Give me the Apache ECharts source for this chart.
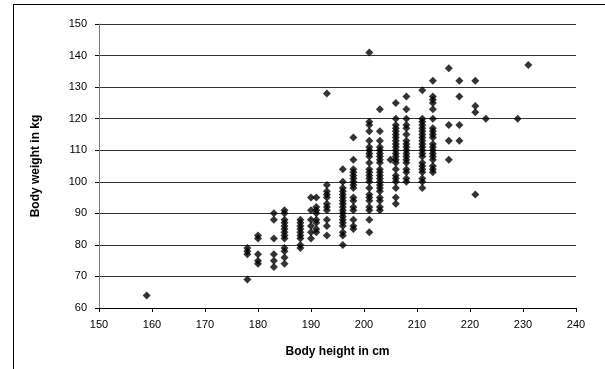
<!DOCTYPE html>
<html>
<head>
<meta charset="utf-8">
<script src="https://cdn.jsdelivr.net/npm/echarts@6/dist/echarts.min.js"></script>
<style>
  html, body { margin: 0; padding: 0; background: #fff; }
  #frame { position: absolute; left: 13px; top: 4px; width: 592px; height: 365px;
    border-left: 1px solid #000; border-top: 1px solid #000; }
  #chart { position: absolute; left: 0; top: 0; width: 605px; height: 369px; }
</style>
</head>
<body>
<div id="frame"></div>
<div id="chart"></div>
<script>
// heights (cm) and the weights (kg) observed at each height
const heights = [159, 178, 180, 183, 185, 188, 190, 191, 193, 196, 198, 201, 203, 205, 206, 208, 211, 213, 216, 218, 221, 223, 229, 231];
const weights = [
  [64],
  [69, 77, 78, 79],
  [74, 75, 77, 82, 83],
  [73, 75, 77, 82, 88, 90],
  [74, 76, 78, 79, 82, 83, 84, 85, 86, 87, 88, 90, 91],
  [79, 80, 82, 83, 84, 85, 86, 87, 88],
  [82, 84, 86, 88, 91, 95],
  [84, 85, 87, 88, 90, 91, 92, 95],
  [83, 86, 88, 91, 92, 93, 95, 96, 97, 99, 128],
  [80, 83, 84, 86, 87, 88, 89, 90, 91, 92, 93, 94, 95, 96, 97, 98, 100, 104],
  [85, 86, 88, 91, 92, 94, 95, 98, 99, 100, 101, 102, 103, 104, 107, 114],
  [84, 88, 91, 92, 94, 95, 96, 98, 100, 101, 102, 103, 104, 106, 108, 109, 110, 111, 113, 116, 118, 119, 141],
  [91, 92, 94, 95, 97, 98, 99, 100, 101, 102, 103, 104, 106, 107, 108, 109, 110, 111, 113, 116, 123],
  [107],
  [93, 95, 98, 100, 101, 102, 104, 106, 107, 108, 109, 110, 111, 112, 113, 114, 115, 116, 117, 118, 120, 125],
  [100, 101, 103, 104, 106, 107, 108, 109, 110, 111, 112, 113, 115, 117, 118, 120, 123, 127],
  [98, 100, 101, 103, 104, 105, 106, 108, 109, 110, 111, 112, 113, 114, 115, 116, 117, 118, 119, 120, 129],
  [103, 104, 105, 107, 108, 109, 110, 111, 112, 114, 115, 116, 117, 120, 123, 125, 126, 127, 132],
  [107, 113, 118, 136],
  [113, 118, 127, 132],
  [96, 122, 124, 132],
  [120],
  [120],
  [137]
];
const xTitle = "Body height in cm";
const yTitle = "Body weight in kg";

const points = [];
heights.forEach((h, i) => weights[i].forEach((w) => points.push([h, w])));

const FONT = "Liberation Sans";
const chart = echarts.init(document.getElementById("chart"), null, { renderer: "canvas" });
chart.setOption({
  animation: false,
  grid: { left: 99, right: 29, top: 24, bottom: 61, containLabel: false },
  xAxis: {
    type: "value", min: 150, max: 240, interval: 10,
    name: xTitle, nameLocation: "middle", nameGap: 38,
    nameTextStyle: { color: "#000", fontFamily: FONT, fontSize: 12, fontWeight: "bold" },
    axisLine: { show: true, lineStyle: { color: "#000", width: 1 } },
    axisTick: { show: true, length: 4, lineStyle: { color: "#000" } },
    axisLabel: { color: "#000", fontFamily: FONT, fontSize: 11, margin: 11 },
    splitLine: { show: false }
  },
  yAxis: {
    type: "value", min: 60, max: 150, interval: 10,
    name: yTitle, nameLocation: "middle", nameGap: 57, nameRotate: 90,
    nameTextStyle: { color: "#000", fontFamily: FONT, fontSize: 12, fontWeight: "bold" },
    axisLine: { show: true, lineStyle: { color: "#808080", width: 1 } },
    axisTick: { show: true, length: 4, lineStyle: { color: "#000" } },
    axisLabel: { color: "#000", fontFamily: FONT, fontSize: 11, margin: 12 },
    splitLine: { show: true, lineStyle: { color: "#333", width: 1 } }
  },
  series: [{
    type: "scatter",
    data: points,
    symbol: "diamond",
    symbolSize: 8,
    itemStyle: { color: "#000" }
  }]
});
</script>
</body>
</html>
